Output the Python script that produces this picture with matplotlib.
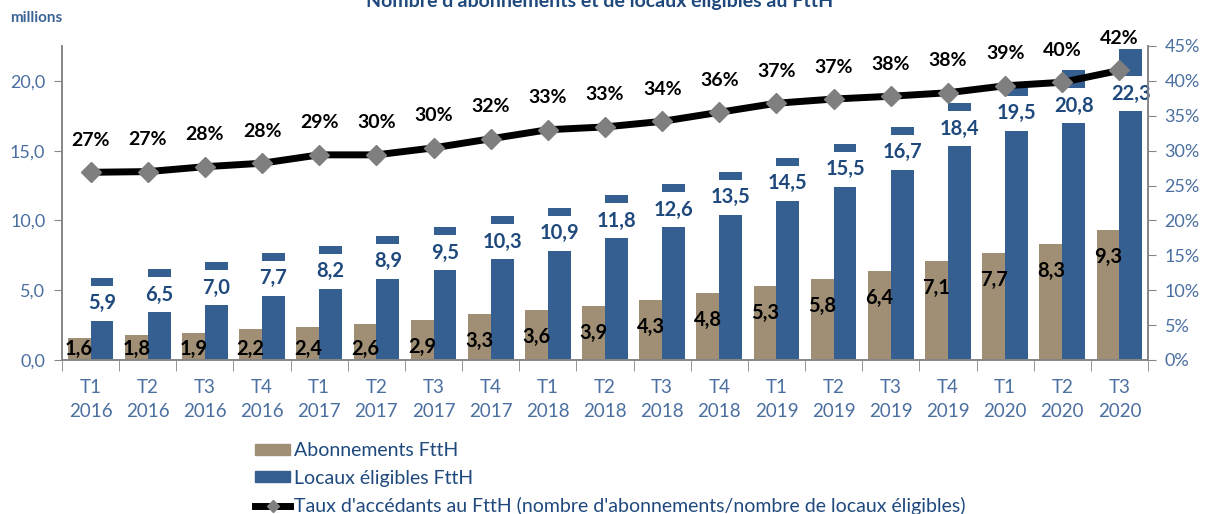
import matplotlib
matplotlib.use("Agg")
import matplotlib.pyplot as plt
import numpy as np
from matplotlib.lines import Line2D
from matplotlib.patches import Patch

plt.rcParams['font.family'] = ['Lato', 'DejaVu Sans']

# données (millions / %)
trimestres = ['T1\n2016', 'T2\n2016', 'T3\n2016', 'T4\n2016',
              'T1\n2017', 'T2\n2017', 'T3\n2017', 'T4\n2017',
              'T1\n2018', 'T2\n2018', 'T3\n2018', 'T4\n2018',
              'T1\n2019', 'T2\n2019', 'T3\n2019', 'T4\n2019',
              'T1\n2020', 'T2\n2020', 'T3\n2020']
abonnements = [1.6, 1.8, 1.9, 2.2, 2.4, 2.6, 2.9, 3.3, 3.6, 3.9,
               4.3, 4.8, 5.3, 5.8, 6.4, 7.1, 7.7, 8.3, 9.3]
locaux = [5.9, 6.5, 7.0, 7.7, 8.2, 8.9, 9.5, 10.3, 10.9, 11.8,
          12.6, 13.5, 14.5, 15.5, 16.7, 18.4, 19.5, 20.8, 22.3]
taux = [26.9, 27.0, 27.7, 28.2, 29.4, 29.4, 30.4, 31.7, 33.0, 33.4,
        34.2, 35.5, 36.8, 37.4, 37.8, 38.3, 39.3, 39.8, 41.5]
taux_labels = ['27%', '27%', '28%', '28%', '29%', '30%', '30%', '32%', '33%', '33%',
               '34%', '36%', '37%', '37%', '38%', '38%', '39%', '40%', '42%']

TAN = '#A08F74'
BLEU = '#365F91'
BLEU_TXT = '#1F497D'
AXE_TXT = '#4A6FA0'
GRIS = '#868686'

def fr(v):
    return f"{v:.1f}".replace('.', ',')

fig = plt.figure(figsize=(12.1, 5.14), dpi=100)
ax = fig.add_axes([62 / 1210, 154 / 514, 1086 / 1210, 314 / 514])
ax2 = ax.twinx()

x = np.arange(len(trimestres))
w = 0.4
ymax = 22.5
upp = ymax / 314  # unités par pixel

ax.bar(x - w / 2, abonnements, w, color=TAN, zorder=2)
ax.bar(x + w / 2, locaux, w, color=BLEU, zorder=2)

# étiquettes des locaux sur fond blanc
for xi, v, t in zip(x, locaux, taux):
    top = min(v - 8 * upp, t * ymax / 45 - 6 * upp)
    h = 35 * upp
    ax.bar(xi + w / 2, h, w + 0.02, bottom=top - h, color='white', zorder=3)
    ax.text(xi + w / 2, top - h / 2, fr(v), ha='center', va='center',
            fontsize=14.5, fontweight='bold', color=BLEU_TXT, zorder=4)

# étiquettes des abonnements
for xi, v in zip(x, abonnements):
    yl = max(v - 27 * upp, 11 * upp)
    ax.text(xi - w / 2, yl, fr(v), ha='center', va='center',
            fontsize=14.5, fontweight='bold', color='black', zorder=4)

ax2.plot(x, taux, color='black', lw=5, marker='D', markersize=10,
         markerfacecolor='#7F7F7F', markeredgecolor='#7F7F7F', zorder=5)
for xi, t, lab in zip(x, taux, taux_labels):
    ax2.annotate(lab, (xi, t), xytext=(0, 23), textcoords='offset points',
                 ha='center', va='center', fontsize=14, fontweight='bold', color='black')

ax.set_xlim(-0.5, len(x) - 0.5)
ax.set_ylim(0, ymax)
ax2.set_ylim(0, 45)

ax.set_yticks([0, 5, 10, 15, 20])
ax.set_yticklabels([fr(v) for v in [0, 5, 10, 15, 20]])
ax2.set_yticks(range(0, 50, 5))
ax2.set_yticklabels([f"{v}%" for v in range(0, 50, 5)])

ax.set_xticks(x)
ax.set_xticklabels(trimestres, linespacing=1.5)
ax.set_xticks(np.arange(-0.5, len(x), 1), minor=True)
ax.tick_params(axis='x', which='major', length=0, pad=14, labelsize=13.5, colors=AXE_TXT)
ax.tick_params(axis='x', which='minor', length=8, color=GRIS, direction='out')
ax.tick_params(axis='y', length=6, color=GRIS, labelsize=13, labelcolor=AXE_TXT, pad=6)
ax2.tick_params(axis='y', length=6, color=GRIS, labelsize=13, labelcolor=AXE_TXT, pad=6)

for a in (ax, ax2):
    a.spines['top'].set_visible(False)
    for s in ('left', 'right', 'bottom'):
        a.spines[s].set_color(GRIS)
        a.spines[s].set_linewidth(1.2)
    a.patch.set_visible(False)

fig.text(600 / 1210, 1 - 7 / 514, "Nombre d'abonnements et de locaux éligibles au FttH",
         ha='center', va='baseline', fontsize=14, fontweight='bold', color=BLEU_TXT)
fig.text(10 / 1210, 1 - 18 / 514, 'millions', ha='left', va='center',
         fontsize=11, fontweight='bold', color='#3B6596')

handles = [Patch(color=TAN), Patch(color=BLEU),
           Line2D([0], [0], color='black', lw=5, marker='D', markersize=6,
                  markerfacecolor='#7F7F7F', markeredgecolor='#7F7F7F')]
labels = ['Abonnements FttH', 'Locaux éligibles FttH',
          "Taux d'accédants au FttH (nombre d'abonnements/nombre de locaux éligibles)"]
leg = fig.legend(handles, labels, loc='upper left', bbox_to_anchor=(255 / 1210, 1 - 442 / 514),
                 frameon=False, fontsize=14, handlelength=1.8, handleheight=0.5,
                 handletextpad=0.2, labelspacing=0.55, borderpad=0, borderaxespad=0)
for t in leg.get_texts():
    t.set_color(BLEU_TXT)

fig.savefig('out.png', dpi=100)
